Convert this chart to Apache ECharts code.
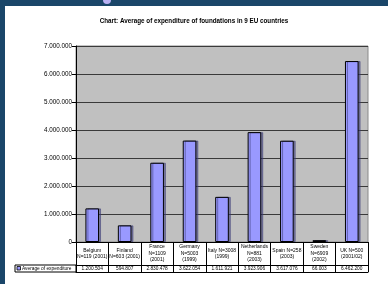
<!DOCTYPE html>
<html>
<head>
<meta charset="utf-8">
<script src="https://cdn.jsdelivr.net/npm/echarts@6/dist/echarts.min.js"></script>
<style>
html,body{margin:0;padding:0;background:#1a4669;}
#c{width:388px;height:284px;}
</style>
</head>
<body>
<div id="c"></div>
<script>
var categories = ['Belgium\nN=119 (2001)', 'Finland\nN=603 (2001)', 'France\nN=1109\n(2001)', 'Germany\nN=5003\n(1999)', 'Italy N=3008\n(1999)', 'Netherlands\nN=881\n(2003)', 'Spain N=258\n(2003)', 'Sweden\nN=6909\n(2002)', 'UK N=500\n(2001/02)'];
var expenditure = [1200504, 594807, 2830478, 3622054, 1611921, 3923906, 3617076, 66003, 6462200];
var seriesName = 'Average of expenditure';
var titleText = 'Chart: Average of expenditure of foundations in 9 EU countries';

function fmt(v) { return String(v).replace(/\B(?=(\d{3})+(?!\d))/g, '.'); }
var valueLabels = expenditure.map(fmt);

var chart = echarts.init(document.getElementById('c'), null, {renderer: 'canvas'});
var font = 'Liberation Sans, Arial, sans-serif';
chart.setOption({
  animation: false,
  backgroundColor: '#1a4669',
  graphic: [
    {type: 'rect', z: -10, shape: {x: 5, y: 6, width: 383, height: 278}, style: {fill: '#ffffff'}},
    {type: 'circle', z: -10, shape: {cx: 107, cy: 0, r: 4}, style: {fill: '#b9b0f2'}},
    {type: 'rect', z: 10, shape: {x: 15, y: 265, width: 61, height: 7}, style: {fill: 'none', stroke: '#000', lineWidth: 1}},
    {type: 'rect', z: 11, shape: {x: 17, y: 266.5, width: 3.5, height: 3.5}, style: {fill: '#9999ff', stroke: '#000', lineWidth: 0.8}},
    {type: 'text', z: 11, style: {x: 22, y: 268.7, text: seriesName, font: '4.8px ' + font, fill: '#000', verticalAlign: 'middle'}}
  ],
  title: {
    text: titleText,
    left: 'center',
    top: 13,
    textStyle: {fontSize: 6.3, fontWeight: 'bold', color: '#000', fontFamily: font}
  },
  grid: {
    left: 76, right: 20, top: 46, bottom: 42,
    show: true, backgroundColor: '#c0c0c0', borderColor: '#8a8a8a', borderWidth: 1
  },
  xAxis: [
    {
      type: 'category', data: categories, position: 'bottom',
      axisLine: {show: true, lineStyle: {color: '#000', width: 1}},
      axisTick: {show: true, interval: 0, length: 30, lineStyle: {color: '#000', width: 1}},
      axisLabel: {interval: 0, fontSize: 5, lineHeight: 6.5, color: '#000', fontFamily: font, margin: 11.5, verticalAlign: 'middle', align: 'center'},
      splitLine: {show: false}
    },
    {
      type: 'category', data: valueLabels, position: 'bottom', offset: 23,
      axisLine: {show: true, lineStyle: {color: '#000', width: 1}},
      axisTick: {show: false},
      axisLabel: {interval: 0, fontSize: 4.8, color: '#000', fontFamily: font, margin: 3.7, verticalAlign: 'middle'}
    },
    {
      type: 'category', data: categories, position: 'bottom', offset: 30,
      axisLine: {show: true, lineStyle: {color: '#000', width: 1}},
      axisTick: {show: false}, axisLabel: {show: false}
    }
  ],
  yAxis: {
    type: 'value', min: 0, max: 7000000, interval: 1000000,
    axisLine: {show: true, lineStyle: {color: '#000', width: 1}},
    axisTick: {show: true, length: 4, lineStyle: {color: '#000'}},
    axisLabel: {fontSize: 6.3, color: '#000', fontFamily: font, margin: 4, formatter: function (v) { return fmt(v); }},
    splitLine: {show: true, lineStyle: {color: '#3a3a3a', width: 1}}
  },
  series: [{
    name: seriesName, type: 'bar', data: expenditure, barWidth: '42%', xAxisIndex: 0,
    itemStyle: {color: '#9999ff', borderColor: '#000', borderWidth: 1, shadowColor: 'rgba(60,60,120,0.55)', shadowOffsetX: 2, shadowOffsetY: 0, shadowBlur: 0}
  }]
});
</script>
</body>
</html>
